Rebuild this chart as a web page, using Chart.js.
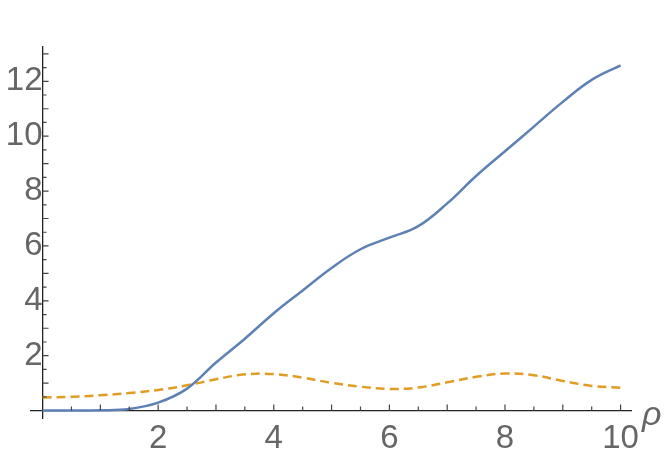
<!DOCTYPE html>
<html>
<head>
<meta charset="utf-8">
<script src="https://cdn.jsdelivr.net/npm/chart.js@4.4.1/dist/chart.umd.min.js"></script>
<style>
	html, body { margin: 0; padding: 0; background: #fff; }
	#wrap { width: 664px; height: 455px; position: relative; }
</style>
</head>
<body>
<div id="wrap"><canvas id="myChart" width="664" height="455"></canvas></div>
<script>
var rho 		= [0, 0.5, 1, 1.5, 2, 2.5, 3, 3.5, 4, 4.5, 5, 5.5, 6, 6.5, 7, 7.5, 8, 8.5, 9, 9.5, 10];
var blue_vals 	= [0, 0, 0.01, 0.06, 0.29, 0.8, 1.75, 2.62, 3.55, 4.38, 5.2, 5.88, 6.3, 6.72, 7.55, 8.55, 9.45, 10.35, 11.25, 12.05, 12.58];
var orange_vals = [0.48, 0.5, 0.56, 0.64, 0.75, 0.92, 1.14, 1.32, 1.33, 1.2, 1.01, 0.87, 0.79, 0.84, 1.03, 1.23, 1.35, 1.29, 1.08, 0.9, 0.83];
var x_labels 	= [2, 4, 6, 8, 10];
var y_labels 	= [2, 4, 6, 8, 10, 12];

var label_color = "#666666";
var axis_color 	= "#222222";

function toPoints(ys) {
	var pts = [];
	for(var i=0; i<rho.length; i++) pts.push({x: rho[i], y: ys[i]});
	return pts;
}

// inward tick marks, every 0.5, longer on integers
var tickPlugin = {
	id: 'inticks',
	afterDraw: function(chart) {
		var ctx = chart.ctx;
		var xs = chart.scales.x, ys = chart.scales.y;
		var x0 = xs.getPixelForValue(0), y0 = ys.getPixelForValue(0);
		ctx.save();
		ctx.strokeStyle = "#444";
		ctx.lineWidth = 1.2;
		ctx.beginPath();
		for(var v=0.5; v<=10.01; v+=0.5) {
			var px = xs.getPixelForValue(v);
			var len = (Math.abs(v - Math.round(v)) < 0.01) ? 6 : 4;
			ctx.moveTo(px, y0); ctx.lineTo(px, y0 - len);
		}
		for(var w=0.5; w<=13.01; w+=0.5) {
			var py = ys.getPixelForValue(w);
			var len2 = (Math.abs(w - Math.round(w)) < 0.01) ? 6 : 4;
			ctx.moveTo(x0, py); ctx.lineTo(x0 + len2, py);
		}
		ctx.stroke();
		// axis label
		ctx.fillStyle = label_color;
		ctx.font = "italic 34px 'Liberation Sans'";
		ctx.textAlign = "left";
		ctx.textBaseline = "alphabetic";
		ctx.fillText("\u03C1", xs.getPixelForValue(10.18) + 11, y0 + 14);
		ctx.restore();
	}
};

var ctx = document.getElementById("myChart");
var myChart = new Chart(ctx, {
	type: 'line',
	data: {
		datasets: [{
			data: toPoints(blue_vals),
			borderColor: "#5E81B5",
			borderWidth: 2.5,
			pointRadius: 0,
			tension: 0.4,
			fill: false
		}, {
			data: toPoints(orange_vals),
			borderColor: "#E19C24",
			borderWidth: 2.5,
			borderDash: [9, 5],
			pointRadius: 0,
			tension: 0.4,
			fill: false
		}]
	},
	options: {
		responsive: false,
		animation: false,
		events: [],
		layout: {
			padding: { left: 31, right: 33, top: 47, bottom: 37 }
		},
		plugins: {
			legend: { display: false },
			tooltip: { enabled: false }
		},
		scales: {
			x: {
				type: 'linear',
				position: { y: 0 },
				min: -0.2,
				max: 10.18,
				afterBuildTicks: function(scale) {
					scale.ticks = x_labels.map(function(v) { return {value: v}; });
				},
				grid: { display: false, drawTicks: false, drawOnChartArea: false },
				border: { display: true, color: axis_color, width: 1.3 },
				ticks: {
					color: label_color,
					padding: 9,
					maxRotation: 0,
					autoSkip: false,
					font: { family: "'Liberation Sans'", size: 33 }
				}
			},
			y: {
				type: 'linear',
				position: { x: 0 },
				min: -0.27,
				max: 13.25,
				afterBuildTicks: function(scale) {
					scale.ticks = y_labels.map(function(v) { return {value: v}; });
				},
				grid: { display: false, drawTicks: false, drawOnChartArea: false },
				border: { display: true, color: axis_color, width: 1.3 },
				ticks: {
					color: label_color,
					padding: 9,
					autoSkip: false,
					font: { family: "'Liberation Sans'", size: 33 }
				}
			}
		}
	},
	plugins: [tickPlugin]
});
</script>
</body>
</html>
